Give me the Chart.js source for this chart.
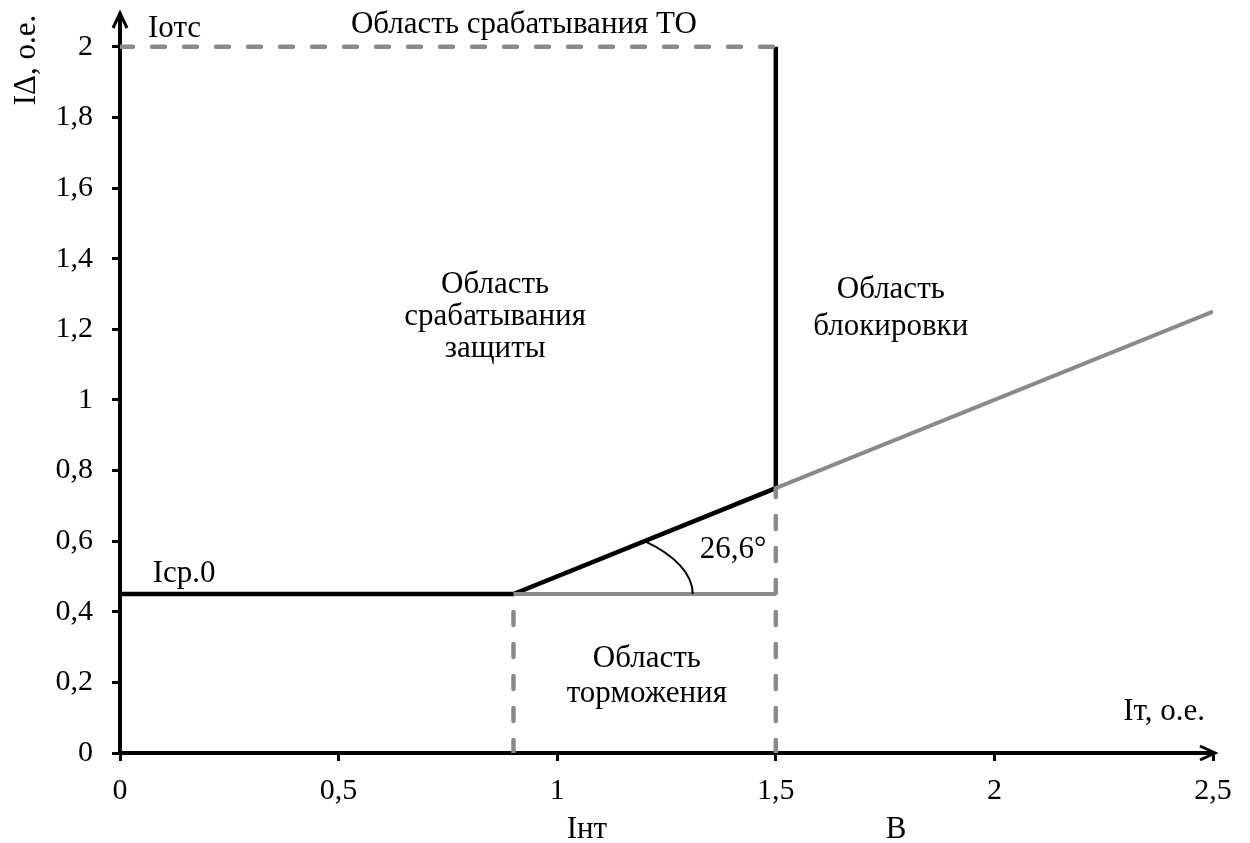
<!DOCTYPE html>
<html>
<head>
<meta charset="utf-8">
<script src="https://cdn.jsdelivr.net/npm/chart.js@4.4.1/dist/chart.umd.min.js"></script>
<style>
    html, body { margin: 0; padding: 0; background: #fff; }
    #wrap { width: 1250px; height: 843px; }
</style>
</head>
<body>
<div id="wrap"><canvas id="chart" width="1250" height="843"></canvas></div>
<script>
// тормозная характеристика (о.е.)
const charX = [0, 0.9, 1.5, 1.5];
const charY = [0.45, 0.45, 0.75, 2];
const slopeX = [1.5, 2.5];
const slopeY = [0.75, 1.25];
const baseX = [0.9, 1.5];
const baseY = [0.45, 0.45];
const cutoffX = [0, 1.5];
const cutoffY = [2, 2];
const intX = [0.9, 0.9];
const intY = [0, 0.45];
const bX = [1.5, 1.5];
const bY = [0, 0.75];
const xTicks = [0, 0.5, 1, 1.5, 2, 2.5];
const yTicks = [0, 0.2, 0.4, 0.6, 0.8, 1, 1.2, 1.4, 1.6, 1.8, 2];

var FONT = '"Liberation Serif", "Times New Roman", serif';
var BLACK = '#000000';
var GRAY = '#8a8a8a';

function pts(xs, ys) {
    return xs.map(function (x, i) { return { x: x, y: ys[i] }; });
}

function fmt(v) {
    return (Math.round(v * 10) / 10).toString().replace('.', ',');
}

function lineSet(xs, ys, color, width, dash) {
    return {
        data: pts(xs, ys),
        showLine: true,
        borderColor: color,
        borderWidth: width,
        borderDash: dash || [],
        borderCapStyle: dash ? 'round' : 'butt',
        pointRadius: 0,
        tension: 0,
    };
}

// надписи на поле графика: [текст, x, y, выравнивание]
var labels = [
    ['Iотс', 0.064, 2.028, 'left'],
    ['Область срабатывания ТО', 0.924, 2.04, 'center'],
    ['Iср.0', 0.075, 0.484, 'left'],
    ['Область', 0.858, 1.303, 'center'],
    ['срабатывания', 0.858, 1.212, 'center'],
    ['защиты', 0.858, 1.122, 'center'],
    ['Область', 1.763, 1.289, 'center'],
    ['блокировки', 1.763, 1.184, 'center'],
    ['26,6°', 1.402, 0.552, 'center'],
    ['Область', 1.205, 0.244, 'center'],
    ['торможения', 1.205, 0.144, 'center'],
    ['Iт, о.е.', 2.388, 0.093, 'center'],
    ['Iнт', 1.068, -0.241, 'center'],
    ['B', 1.775, -0.241, 'center'],
];

var extras = {
    id: 'extras',
    afterDraw: function (chart) {
        var ctx = chart.ctx;
        var xs = chart.scales.x, ys = chart.scales.y;
        var area = chart.chartArea;
        ctx.save();

        // дуга угла
        var cx = xs.getPixelForValue(0.9), cy = ys.getPixelForValue(0.45);
        var rx = xs.getPixelForValue(0.9 + 0.41) - cx;
        var ry = cy - ys.getPixelForValue(0.45 + 0.22);
        var k = (ys.getPixelForValue(0.45) - ys.getPixelForValue(0.75)) / (xs.getPixelForValue(1.5) - cx);
        var t = Math.atan(k * rx / ry);
        ctx.beginPath();
        ctx.ellipse(cx, cy, rx, ry, 0, -t, 0);
        ctx.strokeStyle = BLACK;
        ctx.lineWidth = 2;
        ctx.stroke();

        // стрелки осей
        ctx.lineWidth = 3;
        ctx.lineJoin = 'miter';
        ctx.beginPath();
        ctx.moveTo(area.left - 7, area.top + 13);
        ctx.lineTo(area.left, area.top - 2);
        ctx.lineTo(area.left + 7, area.top + 13);
        ctx.stroke();
        ctx.beginPath();
        ctx.moveTo(area.right - 13, area.bottom - 7);
        ctx.lineTo(area.right + 2, area.bottom);
        ctx.lineTo(area.right - 13, area.bottom + 7);
        ctx.stroke();

        // текст
        ctx.fillStyle = BLACK;
        ctx.font = '31px ' + FONT;
        ctx.textBaseline = 'alphabetic';
        labels.forEach(function (l) {
            ctx.textAlign = l[3];
            ctx.fillText(l[0], xs.getPixelForValue(l[1]), ys.getPixelForValue(l[2]));
        });

        // подпись оси Y
        ctx.translate(35, 60);
        ctx.rotate(-Math.PI / 2);
        ctx.textAlign = 'center';
        ctx.fillText('IΔ, о.е.', 0, 0);
        ctx.restore();
    }
};

new Chart(document.getElementById('chart'), {
    type: 'scatter',
    data: {
        datasets: [
            lineSet(cutoffX, cutoffY, GRAY, 4.5, [13, 19]),
            lineSet(intX, intY, GRAY, 4.5, [13, 19]),
            lineSet(bX, bY, GRAY, 4.5, [13, 19]),
            lineSet(baseX, baseY, GRAY, 4),
            lineSet(slopeX, slopeY, GRAY, 4),
            lineSet(charX, charY, BLACK, 4.5),
        ]
    },
    options: {
        responsive: false,
        animation: false,
        layout: { padding: { top: 15, right: 37, bottom: 0, left: 0 } },
        plugins: {
            legend: { display: false },
            tooltip: { enabled: false },
        },
        scales: {
            x: {
                type: 'linear',
                min: 0,
                max: 2.5,
                afterBuildTicks: function (scale) {
                    scale.ticks = xTicks.map(function (v) { return { value: v }; });
                },
                afterFit: function (scale) {
                    scale.height = 90;
                    scale.paddingLeft = 0;
                    scale.paddingRight = 0;
                },
                border: { color: BLACK, width: 4 },
                grid: { drawOnChartArea: false, drawTicks: true, tickLength: 8, color: BLACK, lineWidth: 3 },
                ticks: {
                    color: BLACK,
                    padding: 12,
                    maxRotation: 0,
                    font: { family: FONT, size: 30 },
                    callback: function (v) { return fmt(v); }
                }
            },
            y: {
                type: 'linear',
                min: 0,
                max: 2.09,
                afterBuildTicks: function (scale) {
                    scale.ticks = yTicks.map(function (v) { return { value: v }; });
                },
                afterFit: function (scale) {
                    scale.width = 120;
                    scale.paddingTop = 0;
                    scale.paddingBottom = 0;
                },
                border: { color: BLACK, width: 4 },
                grid: { drawOnChartArea: false, drawTicks: true, tickLength: 8, color: BLACK, lineWidth: 3 },
                ticks: {
                    color: BLACK,
                    padding: 19,
                    font: { family: FONT, size: 30 },
                    callback: function (v) { return fmt(v); }
                }
            }
        }
    },
    plugins: [extras]
});
</script>
</body>
</html>
